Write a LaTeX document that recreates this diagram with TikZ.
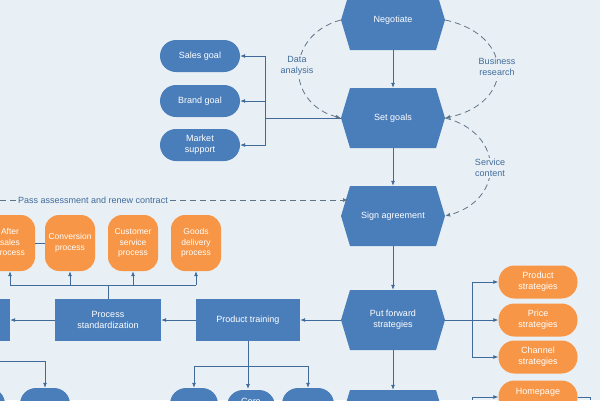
\documentclass[tikz,border=0pt]{standalone}
\usepackage{fontspec}
\setmainfont{Liberation Sans}
\usetikzlibrary{calc,arrows.meta}
\definecolor{bg}{HTML}{E9F0F5}
\definecolor{bl}{HTML}{4A7EBB}
\definecolor{ln}{HTML}{3F6A9A}
\definecolor{og}{HTML}{F79646}
\definecolor{dl}{HTML}{5E7487}
\begin{document}
\begin{tikzpicture}[x=1pt,y=-1pt,
  txt/.style={text=white,font=\fontsize{9}{11}\selectfont,align=center,inner sep=0},
  hexbox/.style={txt,minimum width=104pt,minimum height=60pt},
  pill/.style={txt,fill=bl,rounded corners=16pt,minimum width=80pt,minimum height=32pt},
  opill/.style={txt,fill=og,rounded corners=16pt,minimum width=79pt,minimum height=33pt},
  obox/.style={txt,fill=og,rounded corners=14pt,minimum width=50pt,minimum height=56pt,font=\fontsize{8.5}{10.5}\selectfont},
  rbox/.style={txt,fill=bl,minimum width=106pt,minimum height=42pt},
  arr/.style={draw=ln,line width=0.8pt,-{Latex[length=5pt,width=4pt]}},
  con/.style={draw=ln,line width=0.8pt},
  dsh/.style={draw=dl,line width=0.8pt,dash pattern=on 6pt off 4pt,-{Latex[length=5pt,width=4pt]}},
  lab/.style={fill=bg,text=ln,font=\fontsize{9}{11}\selectfont,align=center,inner sep=1pt}]
\useasboundingbox (0,0) rectangle (600,400);
\fill[bg] (0,0) rectangle (600,400);
\newcommand\myhex[4]{\fill[bl] ($(#2,#3)+(-52,0)$) -- ++(9,-30) -- ++(86,0) -- ++(9,30) -- ++(-9,30) -- ++(-86,0) -- cycle;
  \node[hexbox] (#1) at (#2,#3) {#4};}
\myhex{neg}{393}{20}{Negotiate}
\myhex{set}{393}{118}{Set goals}
\myhex{sign}{393}{216}{Sign agreement}
\myhex{put}{393}{320}{Put forward\\strategies}
\myhex{nxt}{393}{420}{}
% goals
\node[pill] (sales) at (200,56) {Sales goal};
\node[pill] (brand) at (200,101) {Brand goal};
\node[pill] (mkt) at (200,145) {Market\\support};
\coordinate (gj) at (265,118);
\draw[con] (set.west) -- (gj);
\draw[arr] (gj) |- (sales.east);
\draw[arr] (gj) |- (brand.east);
\draw[arr] (gj) |- (mkt.east);
% vertical flow
\draw[arr] (neg.south) -- (set.north);
\draw[arr] (set.south) -- (sign.north);
\draw[arr] (sign.south) -- (put.north);
\draw[arr] (put.south) -- (nxt.north);
% dashed
\draw[dsh] (neg.west) .. controls (285,35) and (285,103) .. (set.west);
\node[lab] at (297,66) {Data\\analysis};
\draw[dsh] (neg.east) .. controls (515,35) and (515,103) .. (set.east);
\node[lab] at (497,67) {Business\\research};
\draw[dsh] (set.east) .. controls (505,133) and (505,200) .. (sign.east);
\node[lab] at (490,168) {Service\\content};
\coordinate (pl) at (0,200);
\draw[dsh] (pl) -- (348,200);
\node[lab,anchor=west] at (17,200) {Pass assessment and renew contract};
% right strategies
\node[opill] (ps) at (538,282) {Product\\strategies};
\node[opill] (pr) at (538,320) {Price\\strategies};
\node[opill] (ch) at (538,357) {Channel\\strategies};
\node[opill] (hp) at (538,397) {Homepage\\ };
\coordinate (rj) at (472,320);
\draw[con] (put.east) -- (rj);
\draw[arr] (rj) |- (ps.west);
\draw[arr] (rj) -- (pr.west);
\draw[arr] (rj) |- (ch.west);
\coordinate (hj) at (472,400);
\draw[arr] (hj) |- (hp.west);
\coordinate (hr) at (590,400);
\draw[con] (hp.east) -- (590,397) -- (hr);
% left row
\node[rbox,minimum width=104pt] (pt) at (248,320) {Product training};
\node[rbox] (pst) at (108,320) {Process\\standardization};
\node[rbox,minimum width=30pt] (lb) at (-5,320) {};
\draw[arr] (put.west) -- (pt.east);
\draw[arr] (pt.west) -- (pst.east);
\draw[arr] (pst.west) -- (lb.east);
% orange processes
\node[obox] (as) at (10,243) {After\\sales\\process};
\node[obox] (cv) at (70,243) {Conversion\\process};
\node[obox] (cs) at (133,243) {Customer\\service\\process};
\node[obox] (gd) at (196,243) {Goods\\delivery\\process};
\draw[con] (as.east) -- (cv.west);
\coordinate (oj) at (108,285);
\draw[con] (pst.north) -- (oj);
\draw[con] (10,285) -- (196,285);
\draw[arr] (10,285) -- (as.south);
\draw[arr] (70,285) -- (cv.south);
\draw[arr] (133,285) -- (cs.south);
\draw[arr] (196,285) -- (gd.south);
% bottom nodes
\node[pill,minimum width=48pt,minimum height=34pt] (b1) at (194,405) {};
\node[pill,minimum width=48pt,minimum height=34pt] (b2) at (251,407) {Core\\ };
\node[pill,minimum width=52pt,minimum height=34pt] (b3) at (308,405) {};
\node[pill,minimum width=50pt,minimum height=34pt] (b4) at (45,405) {};
\node[pill,minimum width=40pt,minimum height=34pt] (b5) at (-15,405) {};
\coordinate (tj) at (248,366);
\draw[con] (pt.south) -- (tj);
\draw[con] (194,366) -- (308,366);
\draw[arr] (194,366) -- (b1.north);
\draw[arr] (tj) -- (248,389);
\draw[arr] (308,366) -- (b3.north);
\coordinate (lj) at (0,361);
\draw[arr] (lj) -| (b4.north);
\end{tikzpicture}
\end{document}
